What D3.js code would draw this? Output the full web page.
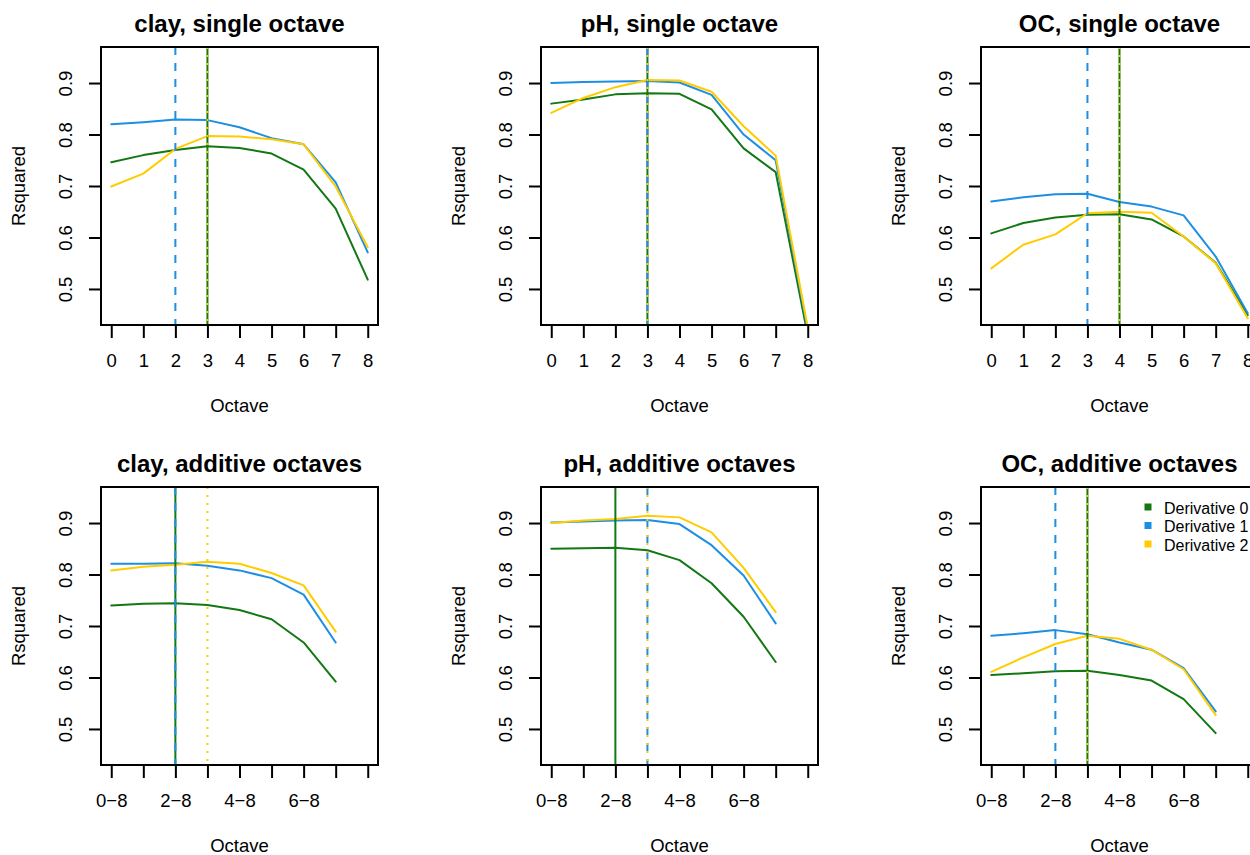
<!DOCTYPE html>
<html>
<head>
<meta charset="utf-8">
<script src="https://cdn.jsdelivr.net/npm/d3@7"></script>
<style>
  html, body { margin: 0; padding: 0; background: #ffffff; }
  svg { display: block; font-family: "Liberation Sans", Arial, Helvetica, sans-serif; }
</style>
</head>
<body>
<svg id="chart" width="1250" height="855"></svg>
<script>
// Octave positions and tick labels
const octaves = [0, 1, 2, 3, 4, 5, 6, 7, 8];
const singleLabels = ["0", "1", "2", "3", "4", "5", "6", "7", "8"];
const additiveLabels = ["0\u22128", "", "2\u22128", "", "4\u22128", "", "6\u22128", "", ""];
const yTicks = [0.5, 0.6, 0.7, 0.8, 0.9];

const seriesNames = ["Derivative 0", "Derivative 1", "Derivative 2"];
const seriesColors = ["#137813", "#1c8fe3", "#ffcc00"];
const seriesDash = [null, "8,8", "2,6"];

// R squared per octave, single octaves
const claySingle0 = [0.746, 0.760, 0.770, 0.777, 0.774, 0.763, 0.732, 0.656, 0.518];
const claySingle1 = [0.820, 0.824, 0.829, 0.828, 0.814, 0.793, 0.781, 0.707, 0.571];
const claySingle2 = [0.699, 0.724, 0.772, 0.797, 0.796, 0.791, 0.781, 0.699, 0.581];
const phSingle0 = [0.860, 0.868, 0.878, 0.880, 0.879, 0.849, 0.773, 0.727, 0.410];
const phSingle1 = [0.900, 0.902, 0.903, 0.904, 0.901, 0.877, 0.800, 0.750, 0.420];
const phSingle2 = [0.842, 0.871, 0.892, 0.906, 0.905, 0.883, 0.816, 0.759, 0.425];
const ocSingle0 = [0.608, 0.628, 0.639, 0.644, 0.645, 0.635, 0.602, 0.551, 0.449];
const ocSingle1 = [0.670, 0.678, 0.684, 0.685, 0.669, 0.660, 0.643, 0.563, 0.453];
const ocSingle2 = [0.540, 0.586, 0.606, 0.647, 0.650, 0.648, 0.602, 0.550, 0.443];

// R squared per octave range, additive octaves
const clayAdd0 = [0.740, 0.743, 0.744, 0.741, 0.731, 0.713, 0.668, 0.592];
const clayAdd1 = [0.821, 0.821, 0.822, 0.817, 0.808, 0.793, 0.761, 0.668];
const clayAdd2 = [0.808, 0.815, 0.819, 0.825, 0.821, 0.803, 0.779, 0.689];
const phAdd0 = [0.850, 0.851, 0.852, 0.847, 0.828, 0.783, 0.718, 0.630];
const phAdd1 = [0.901, 0.903, 0.905, 0.906, 0.898, 0.857, 0.798, 0.705];
const phAdd2 = [0.900, 0.905, 0.908, 0.914, 0.911, 0.882, 0.813, 0.727];
const ocAdd0 = [0.605, 0.608, 0.612, 0.613, 0.605, 0.594, 0.558, 0.492];
const ocAdd1 = [0.681, 0.686, 0.692, 0.684, 0.668, 0.654, 0.618, 0.534];
const ocAdd2 = [0.611, 0.639, 0.665, 0.681, 0.675, 0.654, 0.616, 0.527];

const panels = [
  { title: "clay, single octave", series: [claySingle0, claySingle1, claySingle2], labels: singleLabels, row: 0, col: 0 },
  { title: "pH, single octave", series: [phSingle0, phSingle1, phSingle2], labels: singleLabels, row: 0, col: 1 },
  { title: "OC, single octave", series: [ocSingle0, ocSingle1, ocSingle2], labels: singleLabels, row: 0, col: 2 },
  { title: "clay, additive octaves", series: [clayAdd0, clayAdd1, clayAdd2], labels: additiveLabels, row: 1, col: 0 },
  { title: "pH, additive octaves", series: [phAdd0, phAdd1, phAdd2], labels: additiveLabels, row: 1, col: 1 },
  { title: "OC, additive octaves", series: [ocAdd0, ocAdd1, ocAdd2], labels: additiveLabels, row: 1, col: 2, legend: true }
];

const svg = d3.select("#chart");

// Plot region of one panel, repeated on a 440px grid
const box = { left: 101, top: 47, width: 277, height: 278 };
const step = 440;

// Scales with R-style 4% padding around 0..8 and 0.45..0.95
const x = d3.scaleLinear().domain([-0.32, 8.32]).range([0, box.width]);
const y = d3.scaleLinear().domain([0.43, 0.97]).range([box.height, 0]);

panels.forEach((p, i) => {
  const ox = box.left + p.col * step;
  const oy = box.top + p.row * step;
  const g = svg.append("g").attr("transform", `translate(${ox},${oy})`);

  const clipId = "clip" + i;
  g.append("clipPath").attr("id", clipId)
    .append("rect").attr("x", 0).attr("y", 0).attr("width", box.width).attr("height", box.height);

  // x axis
  const xAxis = d3.axisBottom(x).tickValues(octaves).tickSize(13).tickSizeOuter(0)
    .tickFormat((d, k) => p.labels[k]);
  const xg = g.append("g").attr("transform", `translate(0,${box.height})`).call(xAxis);
  xg.select(".domain").remove();
  xg.selectAll(".tick line").attr("stroke", "#000").attr("stroke-width", 2);
  xg.selectAll(".tick text").attr("y", 42).attr("dy", null)
    .attr("font-size", 18.5).attr("fill", "#000").attr("font-family", "Liberation Sans, Arial, sans-serif");

  // y axis with rotated labels
  const yAxis = d3.axisLeft(y).tickValues(yTicks).tickSize(12).tickSizeOuter(0)
    .tickFormat(d3.format(".1f"));
  const yg = g.append("g").call(yAxis);
  yg.select(".domain").remove();
  yg.selectAll(".tick line").attr("stroke", "#000").attr("stroke-width", 2);
  yg.selectAll(".tick text")
    .attr("x", null).attr("dy", null)
    .attr("text-anchor", "middle")
    .attr("transform", "translate(-29,0) rotate(-90)")
    .attr("font-size", 18.5).attr("fill", "#000").attr("font-family", "Liberation Sans, Arial, sans-serif");

  // series lines
  const plot = g.append("g").attr("clip-path", `url(#${clipId})`);
  const line = d3.line().x((d, k) => x(octaves[k])).y(d => y(d));
  p.series.forEach((s, k) => {
    plot.append("path").datum(s)
      .attr("d", line)
      .attr("fill", "none")
      .attr("stroke", seriesColors[k])
      .attr("stroke-width", 2)
      .attr("stroke-linejoin", "round")
      .attr("stroke-linecap", "round");
  });

  // best octave per derivative
  p.series.forEach((s, k) => {
    const best = octaves[d3.maxIndex(s)];
    const l = plot.append("line")
      .attr("x1", x(best)).attr("x2", x(best))
      .attr("y1", 0).attr("y2", box.height)
      .attr("stroke", seriesColors[k])
      .attr("stroke-width", 2);
    if (seriesDash[k]) l.attr("stroke-dasharray", seriesDash[k]);
  });

  // frame
  g.append("rect").attr("x", 0).attr("y", 0)
    .attr("width", box.width).attr("height", box.height)
    .attr("fill", "none").attr("stroke", "#000").attr("stroke-width", 2);

  // titles and axis labels
  g.append("text").attr("x", box.width / 2).attr("y", -15)
    .attr("text-anchor", "middle").attr("font-size", 24).attr("font-weight", "bold")
    .text(p.title);
  g.append("text").attr("x", box.width / 2).attr("y", 87 + box.height)
    .attr("text-anchor", "middle").attr("font-size", 18.5)
    .text("Octave");
  g.append("text")
    .attr("transform", `translate(-76,${box.height / 2}) rotate(-90)`)
    .attr("text-anchor", "middle").attr("font-size", 18.5)
    .text("Rsquared");

  if (p.legend) {
    const lg = g.append("g").attr("transform", "translate(167,20)");
    seriesNames.forEach((name, k) => {
      const row = lg.append("g").attr("transform", `translate(0,${k * 18.5})`);
      row.append("rect").attr("x", -3.5).attr("y", -3.5).attr("width", 7).attr("height", 7)
        .attr("fill", seriesColors[k]);
      row.append("text").attr("x", 16).attr("y", 6.5)
        .attr("font-size", 16).attr("fill", "#000").text(name);
    });
  }
});
</script>
</body>
</html>
